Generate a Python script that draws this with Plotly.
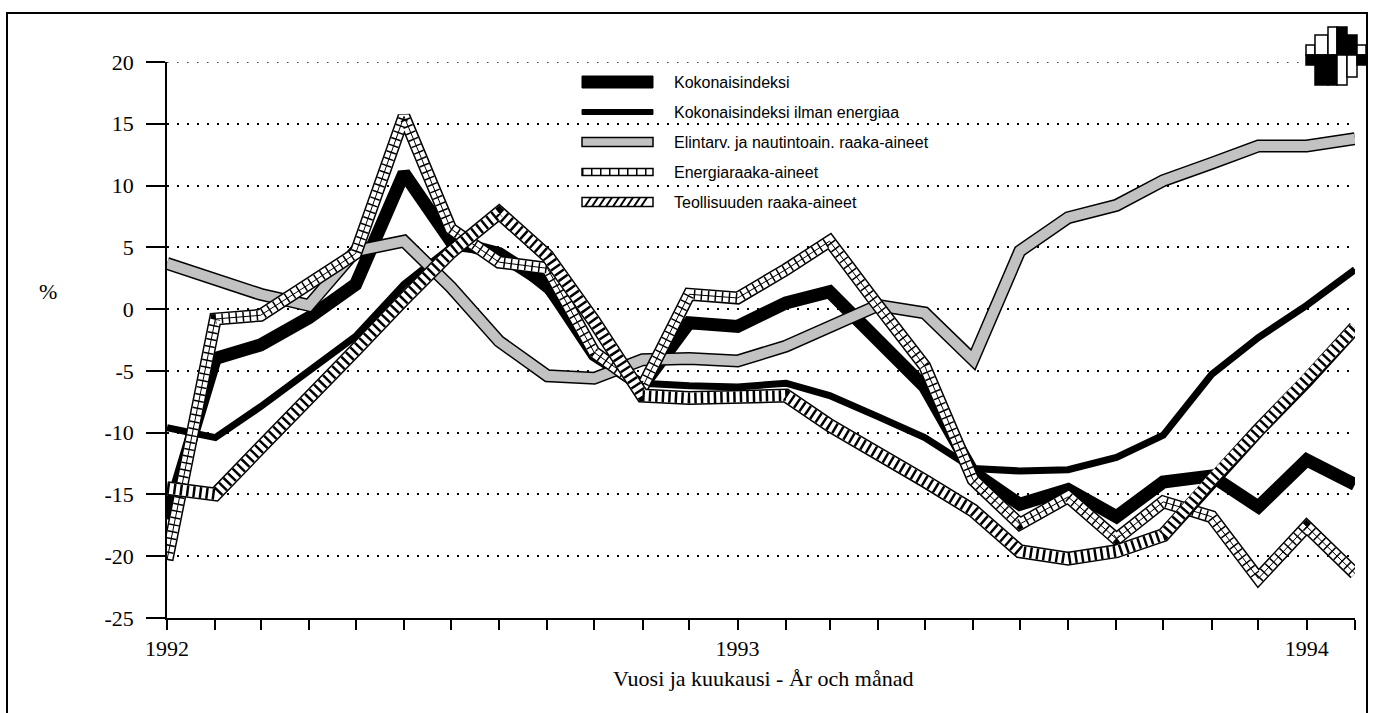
import plotly.graph_objects as go

# ---------------- data ----------------
months = ["1992-01-01", "1992-02-01", "1992-03-01", "1992-04-01", "1992-05-01", "1992-06-01",
          "1992-07-01", "1992-08-01", "1992-09-01", "1992-10-01", "1992-11-01", "1992-12-01",
          "1993-01-01", "1993-02-01", "1993-03-01", "1993-04-01", "1993-05-01", "1993-06-01",
          "1993-07-01", "1993-08-01", "1993-09-01", "1993-10-01", "1993-11-01", "1993-12-01",
          "1994-01-01", "1994-02-01"]
month_labels = ["1992", "", "", "", "", "", "", "", "", "", "", "",
                "1993", "", "", "", "", "", "", "", "", "", "", "",
                "1994", ""]

kokonais = [-17.0, -4.0, -2.9, -0.7, 2.0, 11.0, 5.5, 4.5, 2.0, -3.7, -6.2, -1.1,
            -1.4, 0.5, 1.4, -2.7, -6.3, -13.2, -15.8, -14.6, -16.8, -14.0, -13.5, -16.0,
            -12.2, -14.2]
ilman_energiaa = [-9.6, -10.4, -7.9, -5.0, -2.2, 2.0, 5.0, 4.6, 1.5, -3.5, -6.0, -6.2,
                  -6.3, -6.0, -7.0, -8.7, -10.4, -12.9, -13.1, -13.0, -12.0, -10.2, -5.3, -2.3,
                  0.3, 3.2]
elintarv = [3.7, 2.3, 1.2, 0.3, 4.7, 5.5, 1.8, -2.6, -5.4, -5.6, -4.1, -4.0,
            -4.2, -3.0, -1.5, 0.3, -0.3, -4.1, 4.7, 7.4, 8.4, 10.4, 11.8, 13.2,
            13.2, 13.8]
energia = [-20.3, -0.8, -0.5, 2.0, 4.5, 15.6, 6.5, 3.8, 3.3, -3.5, -6.3, 1.2,
           0.9, 3.2, 5.5, 0.3, -4.6, -13.8, -17.4, -15.2, -18.6, -15.6, -16.8, -21.8,
           -17.6, -21.4]
teollisuus = [-14.5, -15.0, -11.2, -7.3, -3.3, 0.8, 4.6, 7.8, 4.3, -1.0, -7.0, -7.2,
              -7.2, -7.0, -9.4, -11.6, -13.9, -16.3, -19.6, -20.2, -19.6, -18.3, -13.8, -9.8,
              -5.8, -1.5]

series_names = ["Kokonaisindeksi", "Kokonaisindeksi ilman energiaa",
                "Elintarv. ja nautintoain. raaka-aineet", "Energiaraaka-aineet",
                "Teollisuuden raaka-aineet"]
y_ticks = [20, 15, 10, 5, 0, -5, -10, -15, -20, -25]

# ---------------- layout geometry (pixels) ----------------
W, H = 1373, 713
L, R, T, B = 167, 1355, 62, 618


def px(x):
    return (x - L) / (R - L)


def py(y):
    return (B - y) / (B - T)


SERIF = "Liberation Serif, Times New Roman, serif"
SANS = "Liberation Sans, Arial, sans-serif"
GRAY = "#c2c2c2"
GRID_DASH = "1.5px,8.5px"

fig = go.Figure()


def add_line(y, color, width, dash="solid"):
    fig.add_trace(go.Scatter(x=months, y=y, mode="lines", showlegend=False,
                             hoverinfo="skip",
                             line=dict(color=color, width=width, dash=dash)))


# Kokonaisindeksi
add_line(kokonais, "black", 13)
# Kokonaisindeksi ilman energiaa
add_line(ilman_energiaa, "black", 7)
# Elintarv.
add_line(elintarv, "black", 13)
add_line(elintarv, GRAY, 10)
# Energiaraaka-aineet (ladder / cross hatch)
add_line(energia, "black", 13)
add_line(energia, "white", 10)
add_line(energia, "black", 10, "1.5px,5.5px")
add_line(energia, "black", 1)
# Teollisuuden raaka-aineet (hatched)
add_line(teollisuus, "black", 14)
add_line(teollisuus, "white", 11)
add_line(teollisuus, "black", 11, "2.5px,4px")

shapes = []
annotations = []

# outer frame
shapes.append(dict(type="rect", xref="paper", yref="paper",
                   x0=px(7), x1=px(1367), y0=py(717), y1=py(13),
                   line=dict(color="black", width=2), fillcolor="rgba(0,0,0,0)",
                   layer="below"))

# top dotted grid line (at the upper edge of the plot area)
shapes.append(dict(type="line", xref="paper", yref="y", x0=0, x1=1,
                   y0=y_ticks[0], y1=y_ticks[0],
                   line=dict(color="black", width=1.5, dash=GRID_DASH)))

# ---------------- legend (drawn by hand) ----------------
rows = [82, 112, 142, 172, 202]
sx0, sx1 = 582, 653
# 1 solid thick
shapes.append(dict(type="rect", xref="paper", yref="paper", x0=px(sx0), x1=px(sx1),
                   y0=py(rows[0] + 6), y1=py(rows[0] - 6), fillcolor="black",
                   line=dict(color="black", width=1)))
# 2 solid medium
shapes.append(dict(type="rect", xref="paper", yref="paper", x0=px(sx0), x1=px(sx1),
                   y0=py(rows[1] + 2.5), y1=py(rows[1] - 2.5), fillcolor="black",
                   line=dict(color="black", width=1)))
# 3 gray
shapes.append(dict(type="rect", xref="paper", yref="paper", x0=px(sx0), x1=px(sx1),
                   y0=py(rows[2] + 4.5), y1=py(rows[2] - 4.5), fillcolor=GRAY,
                   line=dict(color="black", width=1.5)))
# 4 ladder
shapes.append(dict(type="rect", xref="paper", yref="paper", x0=px(sx0), x1=px(sx1),
                   y0=py(rows[3] + 3.5), y1=py(rows[3] - 3.5), fillcolor="white",
                   line=dict(color="black", width=1.5)))
shapes.append(dict(type="line", xref="paper", yref="paper", x0=px(sx0), x1=px(sx1),
                   y0=py(rows[3]), y1=py(rows[3]),
                   line=dict(color="black", width=7, dash="1.5px,7.5px")))
# 5 diagonal hatch
shapes.append(dict(type="rect", xref="paper", yref="paper", x0=px(sx0), x1=px(sx1),
                   y0=py(rows[4] + 4.5), y1=py(rows[4] - 4.5), fillcolor="white",
                   line=dict(color="black", width=1.5)))
hx = sx0 + 3
while hx + 6 <= sx1:
    shapes.append(dict(type="line", xref="paper", yref="paper",
                       x0=px(hx), x1=px(hx + 6), y0=py(rows[4] + 4.5), y1=py(rows[4] - 4.5),
                       line=dict(color="black", width=2)))
    hx += 7

for name, ry in zip(series_names, rows):
    annotations.append(dict(xref="paper", yref="paper", x=px(672), y=py(ry),
                            xanchor="left", yanchor="middle", text=name, showarrow=False,
                            font=dict(family=SANS, size=16, color="black")))

# ---------------- logo (top right) ----------------
logo = [  # (x0, x1, y0, y1, color)
    (1306, 1315, 45, 55, "white"), (1306, 1315, 55, 65, "black"),
    (1315, 1328, 35, 55, "white"), (1315, 1328, 55, 85, "black"),
    (1328, 1337, 27, 55, "white"), (1328, 1337, 55, 85, "black"),
    (1337, 1347, 27, 55, "black"), (1337, 1347, 55, 85, "white"),
    (1347, 1357, 35, 55, "black"), (1347, 1357, 55, 77, "white"),
    (1357, 1366, 45, 55, "white"), (1357, 1366, 55, 65, "black"),
]
for x0, x1, y0, y1, c in logo:
    shapes.append(dict(type="rect", xref="paper", yref="paper",
                       x0=px(x0), x1=px(x1), y0=py(y1), y1=py(y0),
                       fillcolor=c, line=dict(color="black", width=1.5)))

# axis titles
annotations.append(dict(xref="paper", yref="paper", x=px(48), y=py(291), text="%",
                        showarrow=False, xanchor="center", yanchor="middle",
                        font=dict(family=SERIF, size=22, color="black")))
annotations.append(dict(xref="paper", yref="paper", x=px(763), y=py(678),
                        text="Vuosi ja kuukausi - År och månad",
                        showarrow=False, xanchor="center", yanchor="middle",
                        font=dict(family=SERIF, size=22, color="black")))

fig.update_layout(
    width=W, height=H,
    margin=dict(l=L, r=W - R, t=T, b=H - B, pad=0),
    paper_bgcolor="white", plot_bgcolor="white",
    showlegend=False,
    shapes=shapes, annotations=annotations,
    xaxis=dict(type="date", range=[months[0], months[-1]],
               tickmode="array", tickvals=months, ticktext=month_labels,
               ticks="outside", ticklen=10, tickwidth=1.5, tickcolor="black",
               showline=True, linecolor="black", linewidth=2,
               showgrid=False, zeroline=False,
               tickfont=dict(family=SERIF, size=22, color="black")),
    yaxis=dict(range=[-25, 20], tickmode="array", tickvals=y_ticks,
               ticktext=[str(v) for v in y_ticks],
               ticks="outside", ticklen=19, tickwidth=1.5, tickcolor="black",
               ticklabelstandoff=8,
               showline=True, linecolor="black", linewidth=1.5,
               showgrid=True, gridcolor="black", gridwidth=1.5, griddash=GRID_DASH,
               zeroline=False,
               tickfont=dict(family=SERIF, size=22, color="black")),
)

fig.write_html("out.html", config={"displayModeBar": False},
               post_script="document.body.style.margin='0';document.body.style.overflow='hidden';")
